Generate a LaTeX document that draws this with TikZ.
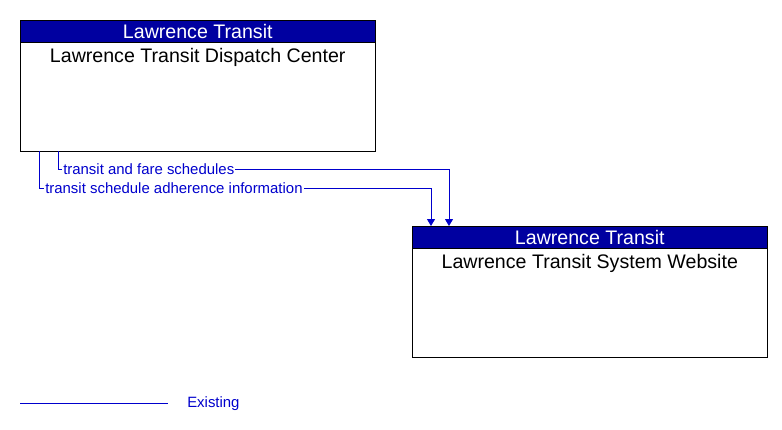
\documentclass[tikz,border=0pt]{standalone}
\usepackage{fontspec}
\setmainfont{Liberation Sans}
\usetikzlibrary{arrows.meta,positioning}

\definecolor{headblue}{RGB}{0,0,160}
\definecolor{flowblue}{RGB}{0,0,205}

\tikzset{
  element/.style={draw, minimum width=266.25pt, minimum height=98.25pt, inner sep=0pt},
  header/.style={draw, fill=headblue, text=white, minimum width=266.25pt, minimum height=16.5pt,
    inner sep=0pt, font=\fontsize{14.7}{16}\selectfont},
  elemname/.style={inner sep=0pt, font=\fontsize{14.7}{16}\selectfont},
  flow/.style={flowblue, line width=0.75pt, -{Triangle[width=6pt,length=5.25pt]}},
  flowlabel/.style={fill=white, text=flowblue, inner sep=0.75pt, font=\fontsize{11.2}{13}\selectfont},
}

\begin{document}
\begin{tikzpicture}[x=0.75pt,y=0.75pt,yscale=-1,xscale=1]
    \useasboundingbox (0,0) rectangle (782,429);

    % Elements
    \node [element, anchor=north west] (dispatch) at (20,20) {};
    \node [header, anchor=north] (dispatch head) at (dispatch.north) {Lawrence Transit};
    \node [elemname, anchor=north] (dispatch name) at ([yshift=3.75pt]dispatch head.south) {Lawrence Transit Dispatch Center};

    \node [element, anchor=north west] (website) at (412,226) {};
    \node [header, anchor=north] (website head) at (website.north) {Lawrence Transit};
    \node [elemname, anchor=north] (website name) at ([yshift=3.75pt]website head.south) {Lawrence Transit System Website};

    % Flows
    \coordinate (fare out) at (58,151);
    \coordinate (fare in) at (449,226);
    \draw [flow] (fare out) -- (fare out |- 0,169) -- (fare in |- 0,169) -- (fare in);
    \node [flowlabel, anchor=west] (fare label) at (62,169) {transit and fare schedules};

    \coordinate (adherence out) at (39,151);
    \coordinate (adherence in) at (431,226);
    \draw [flow] (adherence out) -- (adherence out |- 0,188) -- (adherence in |- 0,188) -- (adherence in);
    \node [flowlabel, anchor=west] (adherence label) at (44,188) {transit schedule adherence information};

    % Legend
    \coordinate (legend start) at (20,403);
    \coordinate (legend end) at (168,403);
    \draw [flowblue, line width=0.75pt] (legend start) -- (legend end);
    \node [flowlabel, anchor=west] (legend label) at (186,404) {Existing};
\end{tikzpicture}
\end{document}
